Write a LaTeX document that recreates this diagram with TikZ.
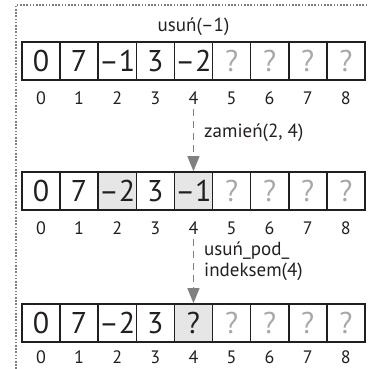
\documentclass[tikz,border=0pt]{standalone}
\usepackage{fontspec}
\setmainfont{PT Sans}
\usetikzlibrary{arrows.meta}
\definecolor{ink}{HTML}{231F20}
\definecolor{qgray}{HTML}{A8A8A8}
\definecolor{cellfill}{HTML}{E6E6E6}
\definecolor{arrgray}{HTML}{808080}
\tikzset{
  cell/.style={draw=ink, line width=1.6pt, minimum width=38.1pt, minimum height=38pt, inner sep=0pt,
    text=ink, font=\fontsize{30}{30}\selectfont},
  hl/.style={fill=cellfill},
  qm/.style={text=qgray},
  idx/.style={inner sep=0pt, text=ink, font=\fontsize{18}{18}\selectfont},
  lbl/.style={inner sep=0pt, text=ink, font=\fontsize{19}{21}\selectfont, align=left},
  oparrow/.style={draw=arrgray, line width=1.2pt, dash pattern=on 7pt off 5pt,
    -{Triangle[width=12pt,length=15pt,fill=arrgray]}},
  frame/.style={draw=arrgray, line width=1.6pt, dash pattern=on 1.6pt off 1.6pt}
}
\begin{document}
\begin{tikzpicture}[x=1pt,y=-1pt]
\useasboundingbox (0,0) rectangle (368,369);
\draw[frame] (16,369) -- (16,5) -- (368,5);
% row 1
\foreach \v [count=\i from 0] in {0,7,–1,3,–2} {
  \node[cell] (a\i) at ({22+19.05+38.1*\i},61) {\v};
}
\foreach \i in {5,...,8} {
  \node[cell,qm] (a\i) at ({22+19.05+38.1*\i},61) {?};
}
\foreach \i in {0,...,8} {
  \node[idx] (ia\i) at ({22+19.05+38.1*\i},98) {\i};
}
\node[lbl] (t1) at (193.5,27) {usuń(–1)};
% row 2
\node[cell] (b0) at ({22+19.05},191) {0};
\node[cell] (b1) at ({22+19.05+38.1},191) {7};
\node[cell,hl] (b2) at ({22+19.05+38.1*2},191) {–2};
\node[cell] (b3) at ({22+19.05+38.1*3},191) {3};
\node[cell,hl] (b4) at ({22+19.05+38.1*4},191) {–1};
\foreach \i in {5,...,8} {
  \node[cell,qm] (b\i) at ({22+19.05+38.1*\i},191) {?};
}
\foreach \i in {0,...,8} {
  \node[idx] (ib\i) at ({22+19.05+38.1*\i},228) {\i};
}
% row 3
\node[cell] (c0) at ({22+19.05},323) {0};
\node[cell] (c1) at ({22+19.05+38.1},323) {7};
\node[cell] (c2) at ({22+19.05+38.1*2},323) {–2};
\node[cell] (c3) at ({22+19.05+38.1*3},323) {3};
\node[cell,hl] (c4) at ({22+19.05+38.1*4},323) {?};
\foreach \i in {5,...,8} {
  \node[cell,qm] (c\i) at ({22+19.05+38.1*\i},323) {?};
}
\foreach \i in {0,...,8} {
  \node[idx] (ic\i) at ({22+19.05+38.1*\i},357.5) {\i};
}
% arrows
\draw[oparrow] ([yshift=-4pt]ia4.south) -- (b4.north);
\node[lbl, anchor=west] (t2) at (204,133) {zamień(2, 4)};
\draw[oparrow] ([yshift=-4pt]ib4.south) -- (c4.north);
\node[lbl, anchor=west] (t3) at (204,261) {usuń\_pod\_\\indeksem(4)};
\end{tikzpicture}
\end{document}
